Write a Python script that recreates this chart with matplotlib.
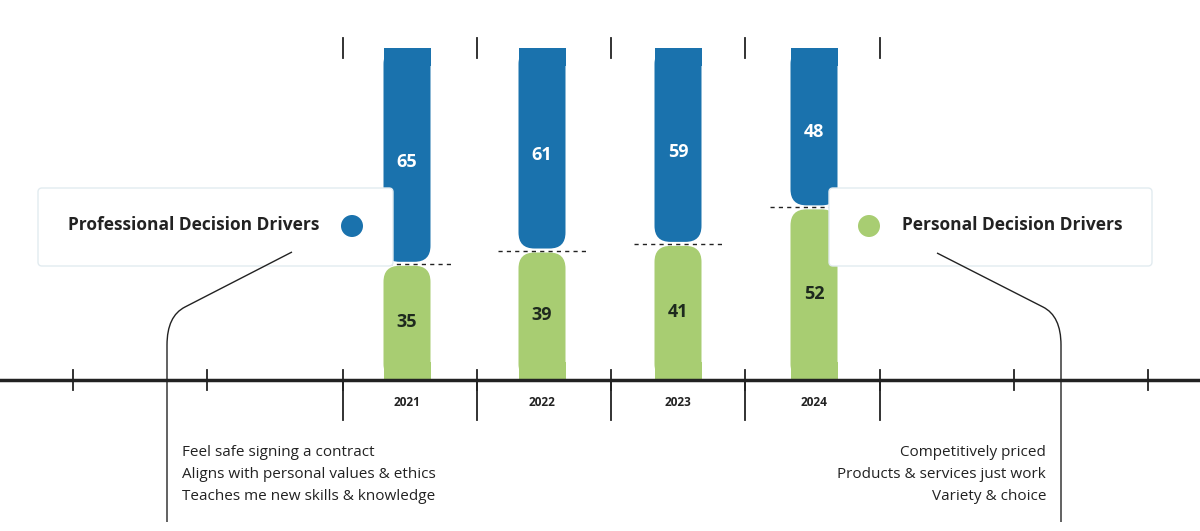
import matplotlib.pyplot as plt
from matplotlib.patches import FancyBboxPatch, Rectangle, Circle, PathPatch
from matplotlib.path import Path

years = ["2021", "2022", "2023", "2024"]
professional = [65, 61, 59, 48]
personal = [35, 39, 41, 52]
prof_items = ["Feel safe signing a contract",
              "Aligns with personal values & ethics",
              "Teaches me new skills & knowledge"]
pers_items = ["Competitively priced",
              "Products & services just work",
              "Variety & choice"]

BLUE = "#1a72ad"
GREEN = "#a8cd72"
PX = 3.32  # pixels per percentage point

fig = plt.figure(figsize=(12, 5.31), dpi=100)
ax = fig.add_axes([0, 0, 1, 1])
ax.set_xlim(0, 1200)
ax.set_ylim(-151, 380)  # pixel-sized units, baseline at 0
ax.axis("off")

def py(p):
    # pixel row -> data y
    return 380 - p

centers = [407, 542, 678, 814]
w = 47
r = 16
for cx, yr, b, g in zip(centers, years, professional, personal):
    x0 = cx - w / 2
    split = g * PX
    top = (b + g) * PX
    # green, rounded top
    ax.add_patch(FancyBboxPatch((x0, 0), w, split - 2, boxstyle=f"round,pad=0,rounding_size={r}",
                                fc=GREEN, ec="none", zorder=3))
    ax.add_patch(Rectangle((x0, 0), w, r + 2, fc=GREEN, ec="none", zorder=3))
    # blue, rounded bottom
    ax.add_patch(FancyBboxPatch((x0, split + 2), w, top - split - 2,
                                boxstyle=f"round,pad=0,rounding_size={r}",
                                fc=BLUE, ec="none", zorder=3))
    ax.add_patch(Rectangle((x0, top - r - 2), w, r + 2, fc=BLUE, ec="none", zorder=3))
    ax.plot([cx - 44, cx + 44], [split, split], ls=(0, (3, 3)), color="#222", lw=1, zorder=4)
    ax.text(cx, split / 2, str(g), ha="center", va="center", fontsize=13, fontweight="bold",
            color="#1e2a1e", zorder=5, family="Open Sans")
    ax.text(cx, split + (top - split) * 0.47, str(b), ha="center", va="center", fontsize=13,
            fontweight="bold", color="white", zorder=5, family="Open Sans")
    ax.text(cx, py(403), yr, ha="center", va="center", fontsize=8.5,
            fontweight="bold", color="#222", family="Open Sans")

# axis
ax.plot([0, 1200], [0, 0], color="#222", lw=2.5, zorder=6)
for x in [73, 207, 343, 477, 611, 745, 880, 1014, 1148]:
    ax.plot([x, x], [py(370), py(390)], color="#222", lw=1.3, zorder=6)
for x in [343, 477, 611, 745, 880]:
    ax.plot([x, x], [py(38), py(58)], color="#222", lw=1.3)
    ax.plot([x, x], [0, py(420)], color="#222", lw=1.3)

# legend boxes
def box(x0, x1, label, circ_x, color, text_x):
    ax.add_patch(FancyBboxPatch((x0, py(266)), x1 - x0, 266 - 188,
                                boxstyle="round,pad=0,rounding_size=4",
                                fc="white", ec="#e2ebf0", lw=1, zorder=7))
    ax.add_patch(Circle((circ_x, py(226)), 11, fc=color, ec="none", zorder=8))
    ax.text(text_x, py(225), label, ha="left", va="center", fontsize=12.5, fontweight="bold",
            color="#222", zorder=8, family="Open Sans")

box(38, 393, "Professional Decision Drivers", 352, BLUE, 68)
box(829, 1152, "Personal Decision Drivers", 869, GREEN, 902)

# connector lines
def conn(pts):
    verts = [(x, py(y)) for x, y in pts]
    codes = [Path.MOVETO, Path.LINETO, Path.CURVE3, Path.CURVE3, Path.LINETO]
    ax.add_patch(PathPatch(Path(verts, codes), fc="none", ec="#222", lw=1, zorder=9))

conn([(292, 252), (185, 307), (167, 316), (167, 345), (167, 522)])
conn([(937, 253), (1043, 307), (1061, 316), (1061, 345), (1061, 522)])

for i, t in enumerate(prof_items):
    ax.text(182, py(452 + 22.5 * i), t, ha="left", va="center", fontsize=11, color="#222",
            family="Open Sans")
for i, t in enumerate(pers_items):
    ax.text(1046, py(452 + 22.5 * i), t, ha="right", va="center", fontsize=11, color="#222",
            family="Open Sans")

fig.savefig("out.png", dpi=100)
